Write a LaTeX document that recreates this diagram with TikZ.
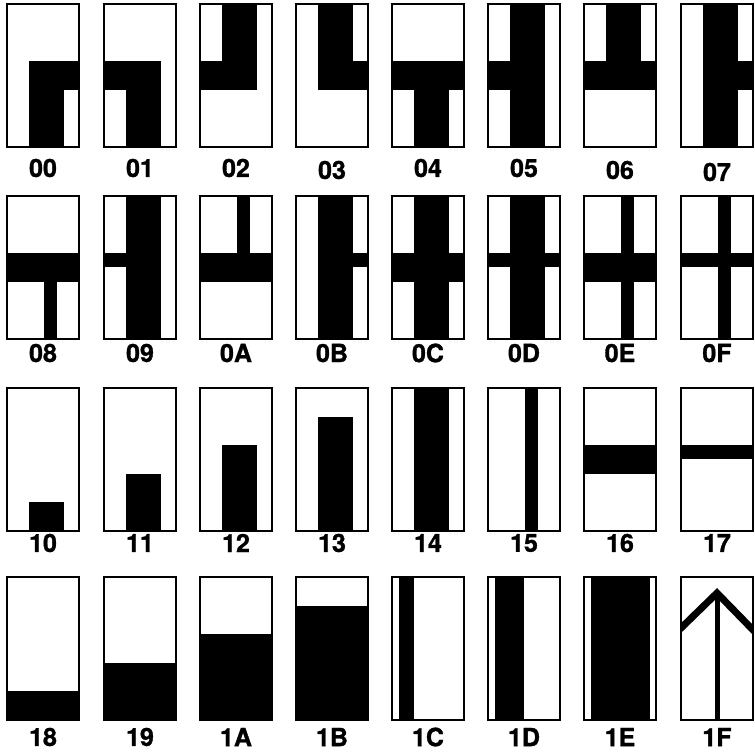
\documentclass[tikz,border=0pt]{standalone}
\usepackage{fontspec}
\setmainfont{TeX Gyre Heros}[BoldFeatures={FakeBold=1.2}]
\tikzset{
  tileborder/.style={draw=black, line width=1.2pt},
  lbl/.style={font=\fontsize{25}{25}\selectfont\bfseries, inner sep=0pt, text=black},
}
\newcommand\mytile[5]{%
  \begin{scope}[shift={(#1,#2)}]
    \begin{scope}
      \clip (0,0) rectangle (72,143);
      #5
    \end{scope}
    \draw[tileborder] (0,0) rectangle (72,143);
  \end{scope}
  \node[lbl] (L#4) at (#1+36,#3) {#4};
}
\newcommand\ThickV[2]{\fill (22,#1) rectangle (57,#2);}
\newcommand\ThinV[2]{\fill (37,#1) rectangle (50,#2);}
\newcommand\ThickH[2]{\fill (#1,57) rectangle (#2,86);}
\newcommand\ThinH[2]{\fill (#1,57) rectangle (#2,71);}
\begin{document}
\begin{tikzpicture}[x=1pt,y=-1pt]
\useasboundingbox (0,0) rectangle (755,752);
% row 1
\mytile{7}{4}{168}{00}{\ThickV{57}{143}\ThickH{22}{72}}
\mytile{104}{4}{168}{01}{\ThickV{57}{143}\ThickH{0}{57}}
\mytile{200}{4}{168}{02}{\ThickV{0}{86}\ThickH{0}{57}}
\mytile{296}{4}{170}{03}{\ThickV{0}{86}\ThickH{22}{72}}
\mytile{392}{4}{168}{04}{\ThickH{0}{72}\ThickV{57}{143}}
\mytile{488}{4}{168}{05}{\ThickV{0}{143}\ThickH{0}{22}}
\mytile{584}{4}{170}{06}{\ThickH{0}{72}\ThickV{0}{86}}
\mytile{681}{4}{172}{07}{\ThickV{0}{143}\ThickH{57}{72}}
% row 2
\mytile{7}{196}{353}{08}{\ThickH{0}{72}\ThinV{86}{143}}
\mytile{104}{196}{353}{09}{\ThickV{0}{143}\ThinH{0}{22}}
\mytile{200}{196}{353}{0A}{\ThickH{0}{72}\ThinV{0}{57}}
\mytile{296}{196}{353}{0B}{\ThickV{0}{143}\ThinH{57}{72}}
\mytile{392}{196}{353}{0C}{\ThickV{0}{143}\ThickH{0}{72}}
\mytile{488}{196}{353}{0D}{\ThickV{0}{143}\ThinH{0}{72}}
\mytile{584}{196}{353}{0E}{\ThinV{0}{143}\ThickH{0}{72}}
\mytile{681}{196}{353}{0F}{\ThinV{0}{143}\ThinH{0}{72}}
% row 3
\mytile{7}{388}{543}{10}{\fill (22,114.4) rectangle (57,143);}
\mytile{104}{388}{543}{11}{\fill (22,85.8) rectangle (57,143);}
\mytile{200}{388}{543}{12}{\fill (22,57.2) rectangle (57,143);}
\mytile{296}{388}{543}{13}{\fill (22,28.6) rectangle (57,143);}
\mytile{392}{388}{543}{14}{\ThickV{0}{143}}
\mytile{488}{388}{543}{15}{\ThinV{0}{143}}
\mytile{584}{388}{543}{16}{\ThickH{0}{72}}
\mytile{681}{388}{543}{17}{\ThinH{0}{72}}
% row 4
\mytile{7}{577}{737}{18}{\fill (0,114.4) rectangle (72,143);}
\mytile{104}{577}{737}{19}{\fill (0,85.8) rectangle (72,143);}
\mytile{200}{577}{737}{1A}{\fill (0,57.2) rectangle (72,143);}
\mytile{296}{577}{737}{1B}{\fill (0,28.6) rectangle (72,143);}
\mytile{392}{577}{737}{1C}{\fill (7,0) rectangle (22,143);}
\mytile{488}{577}{737}{1D}{\fill (7,0) rectangle (36,143);}
\mytile{584}{577}{737}{1E}{\fill (7,0) rectangle (66,143);}
\mytile{681}{577}{737}{1F}{\draw[line width=7pt, miter limit=10] (-2,53) -- (36,16) -- (74,55); \fill (34,16) rectangle (39,143);}
\end{tikzpicture}
\end{document}
